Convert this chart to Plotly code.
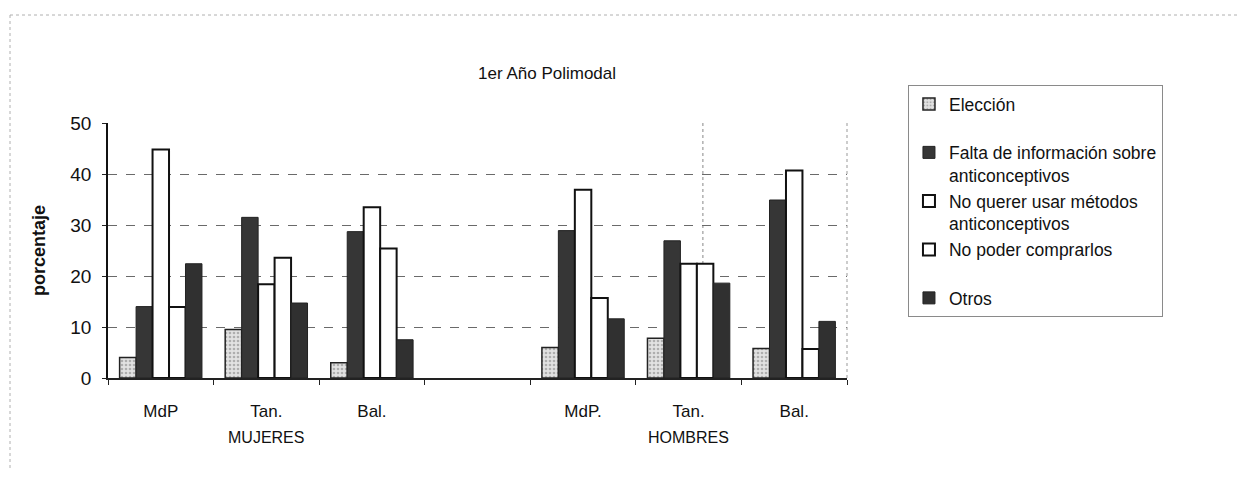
import plotly.graph_objects as go

CATEGORIES = ["MdP", "Tan.", "Bal.", "", "MdP.", "Tan.", "Bal."]
GROUPS = ["MUJERES", "HOMBRES"]
GROUP_AT = [1, 5]
Y_TICKS = [0, 10, 20, 30, 40, 50]

ELECCION = [4, 9.5, 3, None, 6, 7.8, 5.8]
FALTA_INFO = [14, 31.5, 28.7, None, 28.9, 26.9, 34.9]
NO_QUERER = [44.8, 18.4, 33.5, None, 36.9, 22.4, 40.7]
NO_PODER = [13.9, 23.6, 25.4, None, 15.7, 22.4, 5.7]
OTROS = [22.4, 14.7, 7.5, None, 11.6, 18.6, 11.1]

FONT = "Liberation Sans, Arial, sans-serif"
x_pos = list(range(len(CATEGORIES)))

series = [
    ("Elección<br> ", ELECCION, dict(color="#e2e2e2", line=dict(color="#222", width=1.5),
                                    pattern=dict(shape=".", fgcolor="#7a7a7a", size=4, solidity=0.35))),
    ("Falta de información sobre<br>anticonceptivos", FALTA_INFO,
     dict(color="#363636", line=dict(color="#222", width=1))),
    ("No querer usar métodos<br>anticonceptivos", NO_QUERER,
     dict(color="white", line=dict(color="#111", width=2))),
    ("No poder comprarlos<br> ", NO_PODER,
     dict(color="white", line=dict(color="#111", width=2))),
    ("Otros", OTROS, dict(color="#303030", line=dict(color="#222", width=1))),
]

fig = go.Figure()
for name, vals, marker in series:
    fig.add_trace(go.Bar(x=x_pos, y=vals, name=name, marker=marker))

# group labels under the category labels
for label, pos in zip(GROUPS, GROUP_AT):
    fig.add_annotation(x=pos, y=-0.274, xref="x", yref="paper", text=label,
                       showarrow=False, font=dict(size=16, color="#111"))

# faint frame around the scanned chart and the plot-area right edge
frame = dict(color="#b0b0b0", width=1, dash="dot")
fig.add_shape(type="line", xref="paper", yref="paper", x0=-0.1326, x1=1.55,
              y0=1.4235, y1=1.4235, line=frame)
fig.add_shape(type="line", xref="paper", yref="paper", x0=-0.1326, x1=-0.1326,
              y0=1.4235, y1=-0.36, line=frame)
fig.add_shape(type="line", xref="paper", yref="paper", x0=1, x1=1,
              y0=0, y1=1, line=dict(color="#999", width=1, dash="dot"))
fig.add_shape(type="line", xref="paper", yref="paper", x0=0.805, x1=0.805,
              y0=0, y1=1, line=dict(color="#888", width=1, dash="dot"), layer="below")

fig.update_layout(
    width=1245,
    height=478,
    barmode="group",
    bargap=0.22,
    bargroupgap=0,
    title=dict(text="1er Año Polimodal", x=0.433, xanchor="center",
               xref="container", y=0.864, yref="container", yanchor="middle",
               font=dict(size=17, color="#111")),
    plot_bgcolor="white",
    paper_bgcolor="white",
    font=dict(family=FONT, size=16, color="#111"),
    margin=dict(l=100, r=406, t=115, b=108, autoexpand=False),
    showlegend=True,
    legend=dict(
        x=1.0825, y=1.149, xanchor="left", yanchor="top",
        valign="top", traceorder="normal",
        bordercolor="#8a8a8a", borderwidth=1,
        font=dict(size=17.5, color="#111"),
        itemwidth=30,
    ),
)

fig.update_xaxes(
    range=[-0.5, len(CATEGORIES) - 0.5],
    tickmode="array",
    tickvals=x_pos,
    ticktext=CATEGORIES,
    ticks="",
    ticklabelstandoff=17,
    tickfont=dict(size=17),
    showgrid=False,
    zeroline=False,
    showline=True,
    linecolor="#222",
    linewidth=1.5,
    automargin=False,
    minor=dict(tickmode="array", tickvals=[p - 0.5 for p in x_pos] + [x_pos[-1] + 0.5],
               ticks="outside", ticklen=5, tickcolor="#222", showgrid=False),
)

fig.update_yaxes(
    range=[0, 50],
    tickvals=Y_TICKS,
    ticks="outside",
    ticklen=4,
    tickcolor="#222",
    tickfont=dict(size=19),
    ticklabelstandoff=7,
    showgrid=True,
    gridcolor="#6a6a6a",
    griddash="dash",
    gridwidth=1,
    zeroline=False,
    showline=True,
    linecolor="#111",
    linewidth=1.5,
    automargin=False,
    title=dict(text="<b>porcentaje</b>", font=dict(size=18), standoff=20),
)

fig.write_html("out.html")
